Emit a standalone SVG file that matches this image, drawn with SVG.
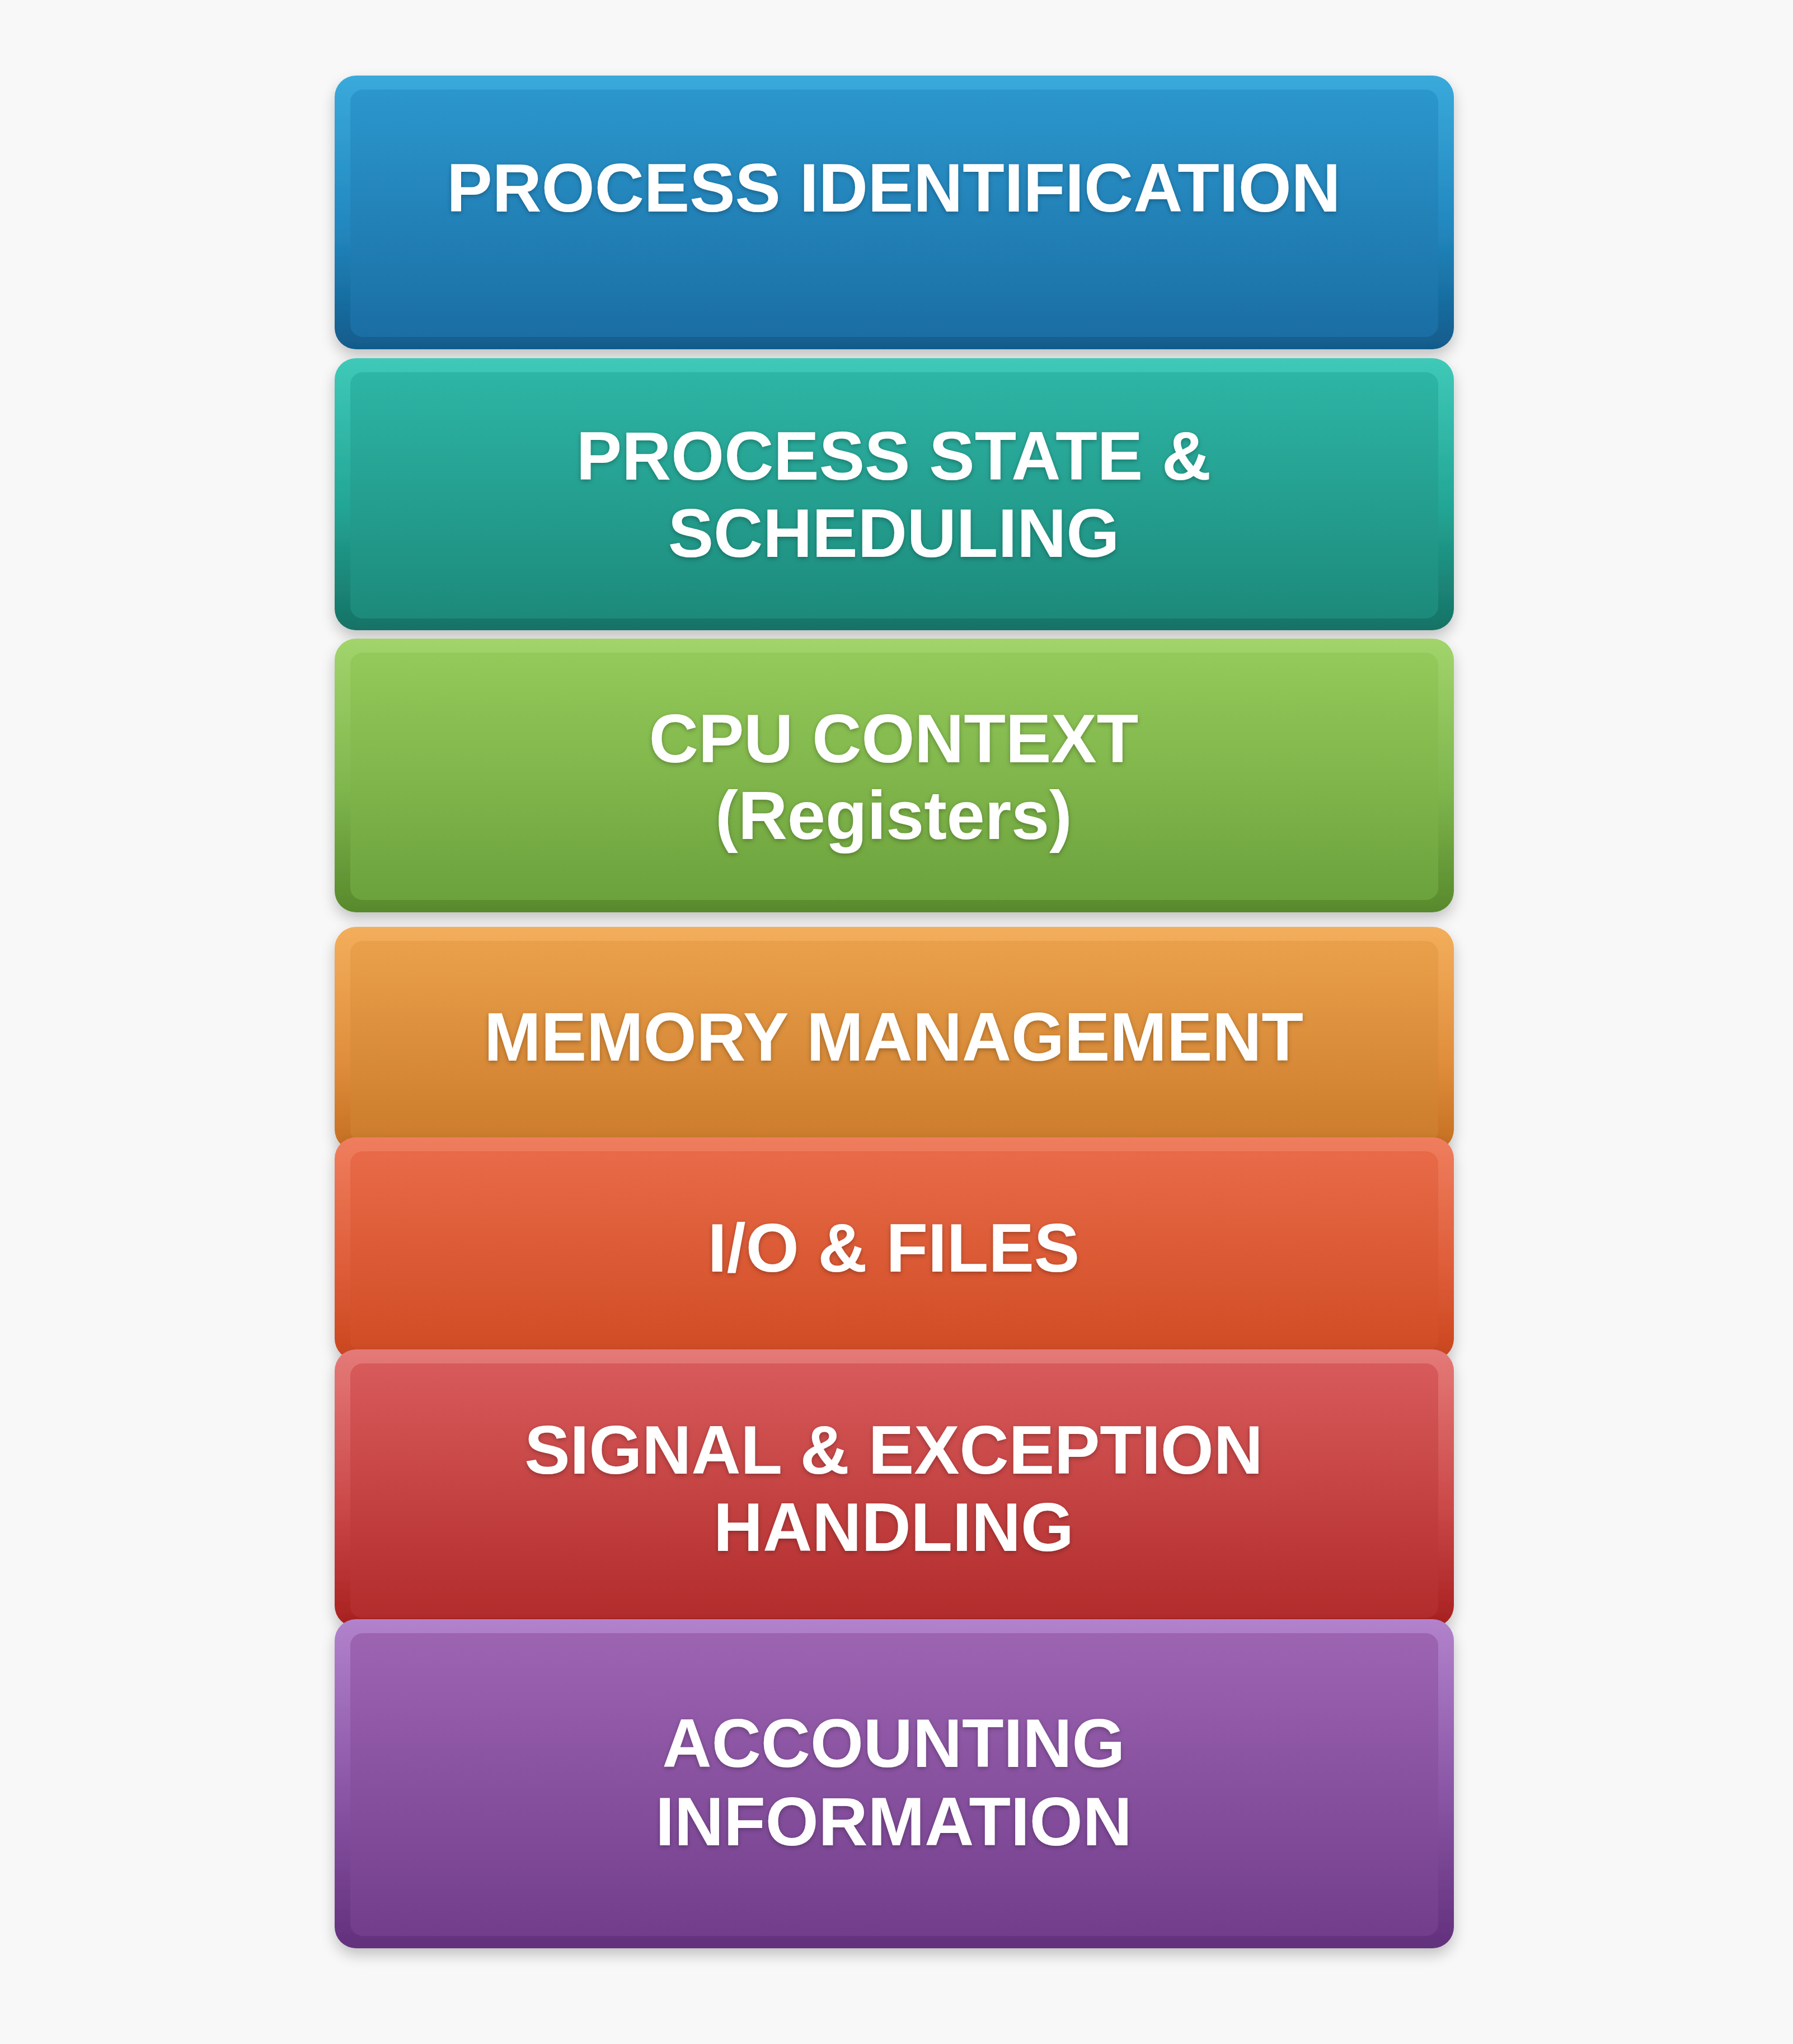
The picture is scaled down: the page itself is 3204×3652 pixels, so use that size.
<svg xmlns="http://www.w3.org/2000/svg" width="3204" height="3652" viewBox="0 0 3204 3652">
<style>
.outer{stroke:none}
.lbl{font-family:"Liberation Sans",Arial,sans-serif;font-weight:bold;font-size:122px;fill:#FFFFFF;text-anchor:middle;filter:url(#txt)}
</style>
<defs>
<filter id="sh" x="-10%" y="-20%" width="120%" height="150%">
<feDropShadow dx="0" dy="12" stdDeviation="12" flood-color="#000" flood-opacity="0.22"/>
</filter>
<filter id="txt" x="-5%" y="-30%" width="110%" height="160%">
<feDropShadow dx="0" dy="3" stdDeviation="4" flood-color="#000" flood-opacity="0.28"/>
</filter>
<linearGradient id="o1" x1="0" y1="0" x2="0" y2="1"><stop offset="0" stop-color="#3AA9DB"/><stop offset="0.55" stop-color="#2288BF"/><stop offset="1" stop-color="#115B8B"/></linearGradient>
<linearGradient id="i1" x1="0" y1="0" x2="0" y2="1"><stop offset="0" stop-color="#2B97CD"/><stop offset="1" stop-color="#1A6EA4"/></linearGradient>
<linearGradient id="o2" x1="0" y1="0" x2="0" y2="1"><stop offset="0" stop-color="#3FC9B8"/><stop offset="0.55" stop-color="#23A595"/><stop offset="1" stop-color="#167265"/></linearGradient>
<linearGradient id="i2" x1="0" y1="0" x2="0" y2="1"><stop offset="0" stop-color="#2DB5A5"/><stop offset="1" stop-color="#1C8A7B"/></linearGradient>
<linearGradient id="o3" x1="0" y1="0" x2="0" y2="1"><stop offset="0" stop-color="#A2D46C"/><stop offset="0.55" stop-color="#7FB64D"/><stop offset="1" stop-color="#58892C"/></linearGradient>
<linearGradient id="i3" x1="0" y1="0" x2="0" y2="1"><stop offset="0" stop-color="#94CA5A"/><stop offset="1" stop-color="#6CA23C"/></linearGradient>
<linearGradient id="o4" x1="0" y1="0" x2="0" y2="1"><stop offset="0" stop-color="#F3AE5C"/><stop offset="0.6" stop-color="#E08E3C"/><stop offset="1" stop-color="#C46E22"/></linearGradient>
<linearGradient id="i4" x1="0" y1="0" x2="0" y2="1"><stop offset="0" stop-color="#EAA04A"/><stop offset="1" stop-color="#CC7C2C"/></linearGradient>
<linearGradient id="o5" x1="0" y1="0" x2="0" y2="1"><stop offset="0" stop-color="#EF7E5E"/><stop offset="0.6" stop-color="#DE5C38"/><stop offset="1" stop-color="#C9461E"/></linearGradient>
<linearGradient id="i5" x1="0" y1="0" x2="0" y2="1"><stop offset="0" stop-color="#E86A48"/><stop offset="1" stop-color="#D04C24"/></linearGradient>
<linearGradient id="o6" x1="0" y1="0" x2="0" y2="1"><stop offset="0" stop-color="#E47A78"/><stop offset="0.55" stop-color="#CC4A4A"/><stop offset="1" stop-color="#A82020"/></linearGradient>
<linearGradient id="i6" x1="0" y1="0" x2="0" y2="1"><stop offset="0" stop-color="#D85A5A"/><stop offset="1" stop-color="#B22C2C"/></linearGradient>
<linearGradient id="o7" x1="0" y1="0" x2="0" y2="1"><stop offset="0" stop-color="#B282CC"/><stop offset="0.5" stop-color="#8C58A8"/><stop offset="1" stop-color="#62307C"/></linearGradient>
<linearGradient id="i7" x1="0" y1="0" x2="0" y2="1"><stop offset="0" stop-color="#9D64B2"/><stop offset="1" stop-color="#723E8C"/></linearGradient>
</defs>
<rect x="0" y="0" width="3204" height="3652" fill="#F8F8F8"/>
<g id="connectors"/>
<g id="node1">
<rect class="outer" x="598" y="135" width="2000" height="489" rx="38" fill="url(#o1)" filter="url(#sh)"/>
<rect x="626" y="160" width="1944" height="442" rx="22" fill="url(#i1)"/>
<text class="lbl" x="1597" y="378">PROCESS IDENTIFICATION</text>
</g>
<g id="node2">
<rect class="outer" x="598" y="640" width="2000" height="486" rx="38" fill="url(#o2)" filter="url(#sh)"/>
<rect x="626" y="665" width="1944" height="440" rx="22" fill="url(#i2)"/>
<text class="lbl" x="1597" y="857">PROCESS STATE &amp;</text>
<text class="lbl" x="1597" y="995">SCHEDULING</text>
</g>
<g id="node3">
<rect class="outer" x="598" y="1141" width="2000" height="489" rx="38" fill="url(#o3)" filter="url(#sh)"/>
<rect x="626" y="1166" width="1944" height="442" rx="22" fill="url(#i3)"/>
<text class="lbl" x="1597" y="1362">CPU CONTEXT</text>
<text class="lbl" x="1597" y="1499">(Registers)</text>
</g>
<g id="node4">
<rect class="outer" x="598" y="1656" width="2000" height="400" rx="38" fill="url(#o4)" filter="url(#sh)"/>
<rect x="626" y="1681" width="1944" height="360" rx="22" fill="url(#i4)"/>
<text class="lbl" x="1597" y="1895">MEMORY MANAGEMENT</text>
</g>
<g id="node5">
<rect class="outer" x="598" y="2032" width="2000" height="398" rx="38" fill="url(#o5)" filter="url(#sh)"/>
<rect x="626" y="2057" width="1944" height="358" rx="22" fill="url(#i5)"/>
<text class="lbl" x="1597" y="2272">I/O &amp; FILES</text>
</g>
<g id="node6">
<rect class="outer" x="598" y="2411" width="2000" height="496" rx="38" fill="url(#o6)" filter="url(#sh)"/>
<rect x="626" y="2436" width="1944" height="455" rx="22" fill="url(#i6)"/>
<text class="lbl" x="1597" y="2633">SIGNAL &amp; EXCEPTION</text>
<text class="lbl" x="1597" y="2771">HANDLING</text>
</g>
<g id="node7">
<rect class="outer" x="598" y="2893" width="2000" height="588" rx="38" fill="url(#o7)" filter="url(#sh)"/>
<rect x="626" y="2918" width="1944" height="541" rx="22" fill="url(#i7)"/>
<text class="lbl" x="1597" y="3157">ACCOUNTING</text>
<text class="lbl" x="1597" y="3297">INFORMATION</text>
</g>
</svg>
